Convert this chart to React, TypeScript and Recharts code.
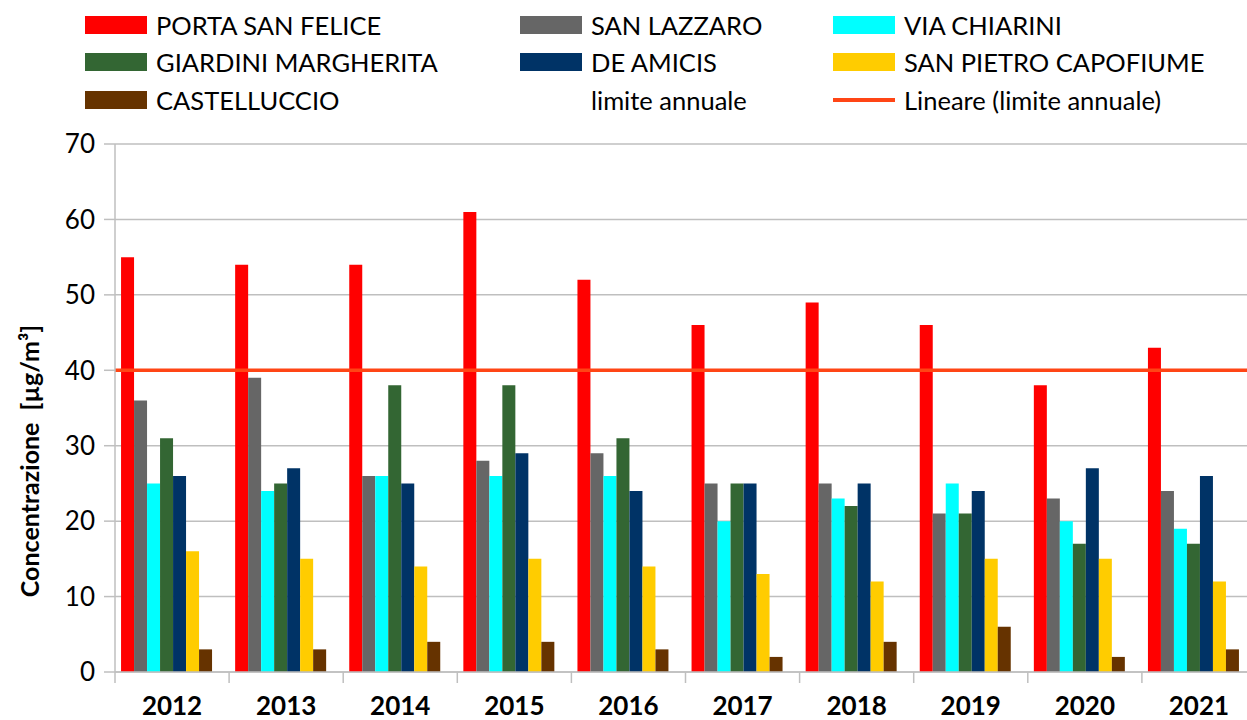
import React from "react";
import {
  BarChart,
  Bar,
  XAxis,
  YAxis,
  CartesianGrid,
  ReferenceLine,
  Label,
} from "recharts";

const years = ["2012", "2013", "2014", "2015", "2016", "2017", "2018", "2019", "2020", "2021"];
const portaSanFelice = [55, 54, 54, 61, 52, 46, 49, 46, 38, 43];
const sanLazzaro = [36, 39, 26, 28, 29, 25, 25, 21, 23, 24];
const viaChiarini = [25, 24, 26, 26, 26, 20, 23, 25, 20, 19];
const giardiniMargherita = [31, 25, 38, 38, 31, 25, 22, 21, 17, 17];
const deAmicis = [26, 27, 25, 29, 24, 25, 25, 24, 27, 26];
const sanPietroCapofiume = [16, 15, 14, 15, 14, 13, 12, 15, 15, 12];
const castelluccio = [3, 3, 4, 4, 3, 2, 4, 6, 2, 3];
const limiteAnnuale = [40, 40, 40, 40, 40, 40, 40, 40, 40, 40];
const yTicks = [0, 10, 20, 30, 40, 50, 60, 70];

const series = [
  { key: "psf", name: "PORTA SAN FELICE", color: "#FF0000", values: portaSanFelice },
  { key: "sl", name: "SAN LAZZARO", color: "#666666", values: sanLazzaro },
  { key: "vc", name: "VIA CHIARINI", color: "#00FFFF", values: viaChiarini },
  { key: "gm", name: "GIARDINI MARGHERITA", color: "#336633", values: giardiniMargherita },
  { key: "da", name: "DE AMICIS", color: "#003366", values: deAmicis },
  { key: "sp", name: "SAN PIETRO CAPOFIUME", color: "#FFCC00", values: sanPietroCapofiume },
  { key: "ca", name: "CASTELLUCCIO", color: "#663300", values: castelluccio },
  { key: "lim", name: "limite annuale", color: "none", values: limiteAnnuale },
];

const LIMIT_COLOR = "#FF4515";
const GRID = "#BFBFBF";
const FONT = "Lato, 'Liberation Sans', sans-serif";

const data = years.map((year, i) => {
  const row: any = { year };
  series.forEach((s) => (row[s.key] = s.values[i]));
  return row;
});

const YearTick = (props: any) => {
  const { x, y, payload } = props;
  const off = payload && payload.offset != null ? payload.offset : 57;
  return (
    <g>
      <line x1={x - off} x2={x - off} y1={y} y2={y + 11} stroke={GRID} strokeWidth={1.5} />
      <text
        x={x}
        y={y + 43}
        textAnchor="middle"
        fontFamily={FONT}
        fontWeight="bold"
        fontSize={26}
        fill="#000"
      >
        {payload.value}
      </text>
    </g>
  );
};

const legendCols = [85, 520, 833];
const legendRows = [25, 62, 100];

const LegendBox = () => {
  const items: any[] = series.map((s) => ({ name: s.name, color: s.color, line: false }));
  items.push({ name: "Lineare (limite annuale)", color: LIMIT_COLOR, line: true });
  return (
    <div style={{ position: "absolute", left: 0, top: 0, width: 1247, height: 125 }}>
      {items.map((it, i) => {
        const col = i % 3;
        const row = Math.floor(i / 3);
        return (
          <div
            key={it.name}
            style={{
              position: "absolute",
              left: legendCols[col],
              top: legendRows[row] - 16,
              height: 32,
              display: "flex",
              alignItems: "center",
              fontFamily: FONT,
              fontSize: 25.5,
              color: "#000",
              whiteSpace: "nowrap",
            }}
          >
            <span
              style={{
                display: "inline-block",
                width: 62,
                height: it.line ? 4 : 18,
                background: it.color === "none" ? "transparent" : it.color,
                marginRight: 9,
              }}
            />
            {it.name}
          </div>
        );
      })}
    </div>
  );
};

export default function App() {
  return (
    <div
      style={{
        position: "absolute",
        left: 0,
        top: 0,
        width: 1247,
        height: 720,
        overflow: "hidden",
        background: "#fff",
      }}
    >
      <LegendBox />
      <BarChart
        width={1262}
        height={720}
        data={data}
        margin={{ top: 144, right: 6, bottom: 0, left: 0 }}
        barCategoryGap="5.3%"
        barGap={0}
      >
        <CartesianGrid vertical={false} stroke={GRID} strokeWidth={1.5} />
        <XAxis
          dataKey="year"
          height={48}
          tickLine={false}
          tickSize={0}
          tickMargin={0}
          axisLine={{ stroke: GRID, strokeWidth: 1.5 }}
          tick={<YearTick />}
          interval={0}
        />
        <YAxis
          width={115}
          domain={[0, 70]}
          ticks={yTicks}
          interval={0}
          tickSize={11}
          tickMargin={9}
          tickLine={{ stroke: GRID, strokeWidth: 1.5 }}
          axisLine={{ stroke: GRID, strokeWidth: 1.5 }}
          tick={{ fontFamily: FONT, fontSize: 26, fill: "#000" }}
        >
          <Label
            content={(p: any) => {
              const vb = p.viewBox || { x: 0, y: 144, height: 528 };
              const cx = vb.x + 29;
              const cy = vb.y + vb.height / 2 + 53;
              return (
                <text
                  x={cx}
                  y={cy}
                  transform={`rotate(-90, ${cx}, ${cy})`}
                  textAnchor="middle"
                  dominantBaseline="central"
                  fontFamily={FONT}
                  fontWeight="bold"
                  fontSize={25}
                  fill="#000"
                  style={{ whiteSpace: "pre" }}
                >
                  {"Concentrazione  [µg/m³]"}
                </text>
              );
            }}
          />
        </YAxis>
        {series.map((s) => (
          <Bar
            key={s.key}
            dataKey={s.key}
            name={s.name}
            fill={s.color}
            isAnimationActive={false}
          />
        ))}
        <ReferenceLine y={40} stroke={LIMIT_COLOR} strokeWidth={3.5} />
      </BarChart>
    </div>
  );
}
